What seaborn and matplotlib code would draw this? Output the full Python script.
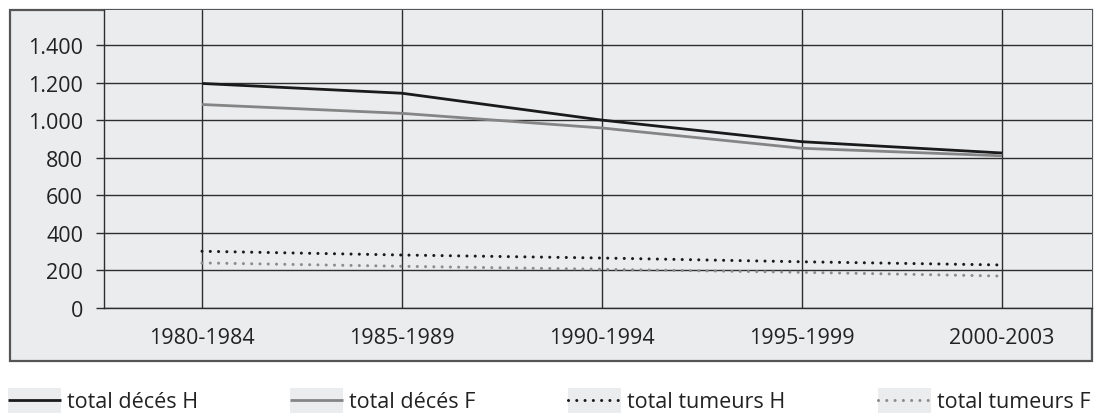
import matplotlib
matplotlib.use("Agg")
import matplotlib.pyplot as plt
import seaborn as sns
import pandas as pd
from matplotlib.patches import Rectangle
from matplotlib.legend_handler import HandlerLine2D
from matplotlib.ticker import FuncFormatter

# ---- data ----
periods = ["1980-1984", "1985-1989", "1990-1994", "1995-1999", "2000-2003"]
deces_h = [1195, 1143, 1000, 885, 825]
deces_f = [1083, 1036, 958, 850, 810]
tumeurs_h = [302, 282, 266, 246, 229]
tumeurs_f = [240, 222, 206, 190, 170]
series_names = ["total décés H", "total décés F", "total tumeurs H", "total tumeurs F"]
y_ticks = [0, 200, 400, 600, 800, 1000, 1200, 1400]

BG = "#ebecee"
GRID = "#2e2e2e"
FS = 15.5

sns.set_theme(style="white")
plt.rcParams["font.family"] = ["Open Sans", "DejaVu Sans"]

W, H = 1103, 414
fig = plt.figure(figsize=(W / 100, H / 100), dpi=100)

# outer framed panel
frame = Rectangle((10 / W, 1 - 362 / H), (1092 - 10) / W, (362 - 11) / H,
                  transform=fig.transFigure, facecolor=BG, edgecolor="#555555",
                  lw=1.6, zorder=-5)
fig.patches.append(frame)

ax = fig.add_axes([104 / W, 1 - 309 / H, (1092 - 104) / W, (309 - 11) / H])
ax.set_zorder(2)
ax.set_facecolor(BG)

styles = [
    dict(color="#1a1a1a", lw=2.0, ls="-"),
    dict(color="#858585", lw=2.0, ls="-"),
    dict(color="#1a1a1a", lw=2.2, ls=(0, (0.01, 2.7))),
    dict(color="#8c8c8c", lw=2.2, ls=(0, (0.01, 2.7))),
]
values = [deces_h, deces_f, tumeurs_h, tumeurs_f]

for name, vals, st in zip(series_names, values, styles):
    df = pd.DataFrame({"periode": periods, "valeur": vals})
    sns.lineplot(data=df, x="periode", y="valeur", ax=ax, color=st["color"],
                 lw=st["lw"], label=name, zorder=3)
    line = ax.get_lines()[-1]
    line.set_linestyle(st["ls"])
    line.set_dash_capstyle("round")
    line.set_solid_capstyle("butt")

ax.set_xlim(-0.49, 4.45)
ax.set_ylim(0, 1586)
ax.set_yticks(y_ticks)
ax.yaxis.set_major_formatter(FuncFormatter(lambda v, p: f"{int(v):,}".replace(",", ".")))
ax.set_xlabel("")
ax.set_ylabel("")

ax.grid(True, axis="both", color=GRID, lw=1.0, zorder=1)
ax.set_axisbelow(True)
for s in ["top", "right"]:
    ax.spines[s].set_visible(False)
for s in ["left", "bottom"]:
    ax.spines[s].set_visible(True)
    ax.spines[s].set_color(GRID)
    ax.spines[s].set_linewidth(1.0)

ax.tick_params(axis="y", length=6, width=1.0, color=GRID, pad=9,
               labelsize=FS, labelcolor="#222222", left=True)
ax.tick_params(axis="x", length=0, pad=14, labelsize=FS, labelcolor="#222222")


class BoxHandler(HandlerLine2D):
    def create_artists(self, legend, orig_handle, xdescent, ydescent, width,
                       height, fontsize, trans):
        arts = super().create_artists(legend, orig_handle, xdescent, ydescent,
                                      width, height, fontsize, trans)
        yc = height / 2 - ydescent
        h = 1.3 * fontsize
        rect = Rectangle((-xdescent, yc - h / 2 - 0.1 * fontsize), width, h,
                         facecolor=BG, edgecolor="none", transform=trans)
        for a in arts:
            if hasattr(a, "set_dash_capstyle"):
                a.set_dash_capstyle("round")
        return [rect] + list(arts)


handles, labels = ax.get_legend_handles_labels()
if ax.legend_:
    ax.legend_.remove()
leg = fig.legend(handles, labels, loc="center left",
                 bbox_to_anchor=(8 / W, 1 - 403 / H), ncol=4, frameon=False,
                 fontsize=FS, handlelength=2.45, handletextpad=0.28,
                 columnspacing=4.3, borderpad=0, borderaxespad=0,
                 handler_map={h: BoxHandler() for h in handles})
for t in leg.get_texts():
    t.set_color("#222222")

fig.savefig("out.png", dpi=100)
